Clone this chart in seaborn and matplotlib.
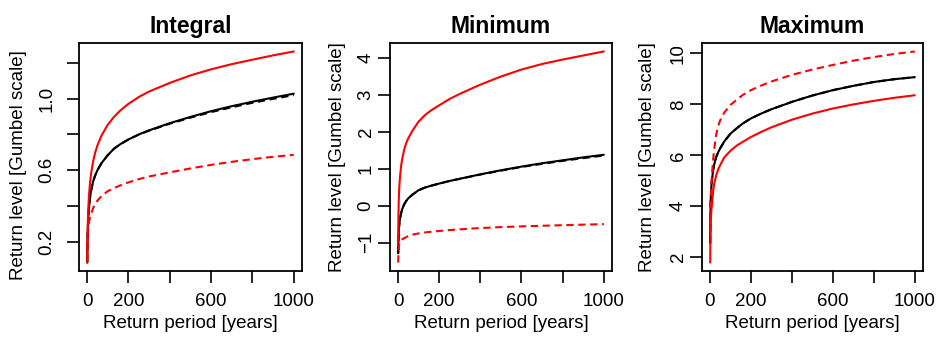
import numpy as np
import pandas as pd
import matplotlib
matplotlib.use("Agg")
import matplotlib.pyplot as plt
import seaborn as sns

# periodos de retorno (anos)
periodo = [1, 1.5, 2, 3, 4, 5, 7, 10, 15, 20, 30, 40, 50, 70, 100, 130, 160, 200,
           250, 300, 400, 500, 600, 700, 800, 900, 1000]

# Integral
int_rojo = [0.084, 0.152, 0.200, 0.268, 0.316, 0.353, 0.409, 0.469, 0.537, 0.585, 0.653, 0.701, 0.738, 0.794,
            0.854, 0.898, 0.933, 0.971, 1.009, 1.040, 1.088, 1.130, 1.164, 1.193, 1.218, 1.242, 1.264]
int_negro = [0.084, 0.145, 0.185, 0.24, 0.28, 0.31, 0.355, 0.40, 0.452, 0.49, 0.54, 0.573, 0.60, 0.64,
             0.684, 0.72, 0.745, 0.772, 0.80, 0.823, 0.863, 0.898, 0.93, 0.958, 0.983, 1.006, 1.028]
int_negro_disc = [0.084, 0.145, 0.185, 0.24, 0.28, 0.31, 0.355, 0.40, 0.452, 0.49, 0.54, 0.573, 0.60, 0.64,
                  0.684, 0.72, 0.745, 0.772, 0.799, 0.821, 0.86, 0.894, 0.925, 0.952, 0.977, 0.999, 1.02]
int_rojo_disc = [0.10, 0.16, 0.19, 0.225, 0.25, 0.265, 0.29, 0.315, 0.34, 0.356, 0.39, 0.413, 0.43, 0.455,
                 0.483, 0.50, 0.515, 0.532, 0.55, 0.565, 0.588, 0.61, 0.63, 0.647, 0.662, 0.675, 0.686]

# Minimum
min_rojo = [-0.97, -0.55, -0.3, 0.0, 0.2, 0.35, 0.57, 0.8, 1.08, 1.26, 1.52, 1.7, 1.83, 2.03,
            2.28, 2.45, 2.58, 2.72, 2.89, 3.03, 3.28, 3.5, 3.69, 3.84, 3.96, 4.07, 4.18]
min_negro = [-1.29, -1.08, -0.95, -0.78, -0.66, -0.58, -0.46, -0.34, -0.2, -0.1, 0.04, 0.13, 0.2, 0.3,
             0.42, 0.49, 0.54, 0.60, 0.67, 0.73, 0.85, 0.96, 1.06, 1.15, 1.23, 1.31, 1.38]
min_negro_disc = [-1.29, -1.08, -0.95, -0.78, -0.66, -0.58, -0.46, -0.34, -0.2, -0.1, 0.04, 0.13, 0.2, 0.3,
                  0.42, 0.49, 0.54, 0.60, 0.67, 0.728, 0.845, 0.95, 1.05, 1.135, 1.215, 1.29, 1.36]
min_rojo_disc = [-1.54, -1.38, -1.28, -1.16, -1.1, -1.06, -1.01, -0.97, -0.93, -0.91, -0.88, -0.85, -0.82, -0.785,
                 -0.75, -0.725, -0.705, -0.685, -0.66, -0.64, -0.605, -0.58, -0.56, -0.543, -0.528, -0.513, -0.50]

# Maximum
max_rojo = [1.79, 2.3, 2.65, 3.1, 3.4, 3.6, 3.85, 4.1, 4.55, 4.85, 5.2, 5.45, 5.62, 5.92,
            6.18, 6.38, 6.53, 6.72, 6.92, 7.1, 7.4, 7.64, 7.84, 8.0, 8.14, 8.26, 8.36]
max_negro = [2.55, 3.2, 3.55, 4.0, 4.3, 4.5, 4.8, 5.05, 5.4, 5.62, 5.93, 6.12, 6.28, 6.55,
             6.85, 7.06, 7.25, 7.45, 7.64, 7.81, 8.1, 8.35, 8.56, 8.73, 8.88, 8.99, 9.07]
max_negro_disc = max_negro
max_rojo_disc = [3.0, 3.4, 3.7, 4.05, 4.3, 4.5, 4.9, 5.3, 5.8, 6.2, 6.8, 7.15, 7.38, 7.68,
                 7.98, 8.18, 8.37, 8.56, 8.74, 8.9, 9.16, 9.37, 9.55, 9.72, 9.86, 9.98, 10.08]

titulos = ["Integral", "Minimum", "Maximum"]
series = [
    [int_negro, int_negro_disc, int_rojo, int_rojo_disc],
    [min_negro, min_negro_disc, min_rojo, min_rojo_disc],
    [max_negro, max_negro_disc, max_rojo, max_rojo_disc],
]
colores = ["black", "black", "red", "red"]
estilos = ["-", (0, (3.5, 2.2)), "-", (0, (3.5, 2.2))]

yticks = [
    [0.2, 0.4, 0.6, 0.8, 1.0, 1.2],
    [-1, 0, 1, 2, 3, 4],
    [2, 4, 6, 8, 10],
]
yticklabels = [
    ["0.2", "", "0.6", "", "1.0", ""],
    ["\u22121", "0", "1", "2", "3", "4"],
    ["2", "4", "6", "8", "10"],
]
xticks = [0, 200, 400, 600, 800, 1000]
xticklabels = ["0", "200", "", "600", "", "1000"]

sns.set_style("ticks")
plt.rcParams["font.family"] = ["Liberation Sans", "DejaVu Sans"]
plt.rcParams["axes.linewidth"] = 1.3
for k in ["text.color", "axes.labelcolor", "xtick.color", "ytick.color", "axes.edgecolor"]:
    plt.rcParams[k] = "black"

fig = plt.figure(figsize=(9.38, 3.38), dpi=100)
izquierdas = [79, 390, 702]
anchos = [223, 222, 221]
pad_y = [8.5, 2.5, 2.5]
pos_ylabel = [(-0.235, 0.465), (-0.198, 0.5), (-0.208, 0.5)]

for i in range(3):
    ax = fig.add_axes([izquierdas[i] / 938, 1 - 271 / 338, anchos[i] / 938, 228 / 338])
    for s, c, ls in zip(series[i], colores, estilos):
        df = pd.DataFrame({"T": periodo, "z": s})
        sns.lineplot(data=df, x="T", y="z", color=c, linestyle=ls, linewidth=1.5,
                     errorbar=None, sort=False, ax=ax)
    todos = np.concatenate([np.array(s) for s in series[i]])
    rango = todos.max() - todos.min()
    ax.set_ylim(todos.min() - 0.04 * rango, todos.max() + 0.04 * rango)
    ax.set_xlim(1 - 0.04 * 999, 1000 + 0.04 * 999)
    ax.set_yticks(yticks[i])
    ax.set_yticklabels(yticklabels[i], rotation=90, va="center")
    ax.set_xticks(xticks)
    ax.set_xticklabels(xticklabels)
    ax.tick_params(direction="out", length=8.5, width=1.2, labelsize=13.5)
    ax.tick_params(axis="y", pad=pad_y[i])
    ax.tick_params(axis="x", pad=7)
    ax.set_title(titulos[i], fontsize=16.5, fontweight="bold", pad=7)
    ax.set_xlabel("Return period [years]", fontsize=13.5)
    ax.set_ylabel("Return level [Gumbel scale]", fontsize=13.5)
    ax.xaxis.set_label_coords(0.5, -0.195)
    ax.yaxis.set_label_coords(*pos_ylabel[i])

fig.savefig("out.png", dpi=100)
